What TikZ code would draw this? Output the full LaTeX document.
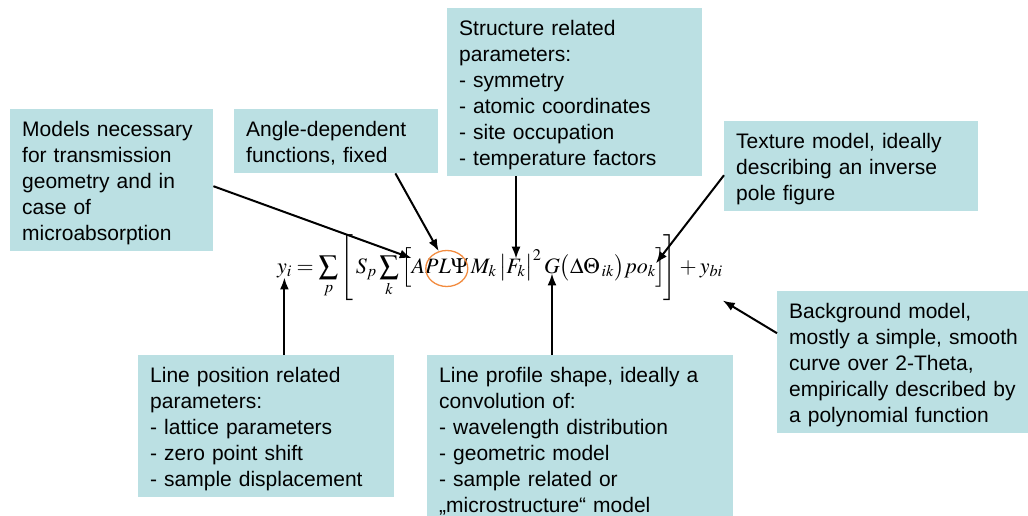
\documentclass[tikz,border=0pt]{standalone}
\usepackage{mathptmx}
\usepackage{fontspec}
\setmainfont{Liberation Sans}
\usetikzlibrary{arrows.meta,shapes.geometric}
\definecolor{boxfill}{HTML}{BBE0E3}
\definecolor{ringline}{HTML}{F28B3F}
\newcommand\boxtop{\rule{0pt}{21pt}}
\newcommand\boxbot{\rule[-5pt]{0pt}{5pt}}
\newcommand\bigsum{\mathop{\vcenter{\hbox{\scalebox{1.25}{$\sum$}}}}\limits}
\begin{document}
\begin{tikzpicture}[x=1pt,y=-1pt,
  note/.style={fill=boxfill, anchor=north west, align=left, inner xsep=12pt, inner ysep=6pt,
    font=\fontsize{21}{26}\selectfont, execute at begin node=\boxtop, execute at end node=\boxbot},
  eqpart/.style={inner sep=0pt, outer sep=0pt, anchor=base west, font=\fontsize{22}{26}\selectfont},
  ringmark/.style={draw=ringline, line width=1.3pt, ellipse, inner sep=0pt, minimum width=42pt, minimum height=36pt},
  pointer/.style={-{Latex[length=12pt,width=9pt]}, line width=2pt}]
\useasboundingbox (0,0) rectangle (1028,515);
\clip (0,0) rectangle (1028,515);

\node[note, text width=179pt] (models) at (10,109) {Models necessary\\for transmission\\geometry and in\\case of\\microabsorption};
\node[note, text width=180pt] (angle) at (234,109) {Angle-dependent\\functions, fixed};
\node[note, text width=231pt] (struct) at (447,8) {Structure related\\parameters:\\- symmetry\\- atomic coordinates\\- site occupation\\- temperature factors};
\node[note, text width=230pt] (texture) at (724,121) {Texture model, ideally\\describing an inverse\\pole figure};
\node[note, text width=232pt] (linepos) at (138,355) {Line position related\\parameters:\\- lattice parameters\\- zero point shift\\- sample displacement};
\node[note, text width=282pt] (profile) at (427,355) {Line profile shape, ideally a\\convolution of:\\- wavelength distribution\\- geometric model\\- sample related or\\„microstructure“ model};
\node[note, text width=245pt] (backgr) at (777,291) {Background model,\\mostly a simple, smooth\\curve over 2-Theta,\\empirically described by\\a polynomial function};

\node[eqpart] (yi) at (277,273) {$y_i$};
\node[eqpart] (sums) at (yi.base east) {${}=\bigsum_p\Bigg[\,S_p\bigsum_k\Big[$};
\node[eqpart] (apl) at (sums.base east) {$A$};
\node[eqpart] (plpsi) at (apl.base east) {$PL\Psi$};
\node[eqpart] (mk) at (plpsi.base east) {$\,M_k\,\big|$};
\node[eqpart] (fk) at (mk.base east) {$F_k$};
\node[eqpart] (sq) at (fk.base east) {$\big|^2\,$};
\node[eqpart] (g) at (sq.base east) {$G$};
\node[eqpart] (theta) at (g.base east) {$\big(\Delta\Theta_{\,ik}\big)$};
\node[eqpart] (pok) at (theta.base east) {$po_k$};
\node[eqpart] (ybi) at (pok.base east) {$\Big]\!\Bigg]+y_{bi}$};

\node[ringmark] (ring) at ([yshift=-3pt]plpsi.center) {};

\draw[pointer] ([yshift=-6pt]models.east) -- (apl.north west);
\draw[pointer] ([xshift=-43pt]angle.south east) -- (ring.115);
\draw[pointer] (fk.north |- struct.south) -- (fk.north);
\draw[pointer] ([yshift=-9pt]texture.west) -- (pok.north east);
\draw[pointer] (yi.south |- linepos.north) -- (yi.south);
\draw[pointer] (g.south |- profile.north) -- (g.south);
\draw[pointer] ([yshift=29pt]backgr.west) -- (ybi.south east);
\end{tikzpicture}
\end{document}
